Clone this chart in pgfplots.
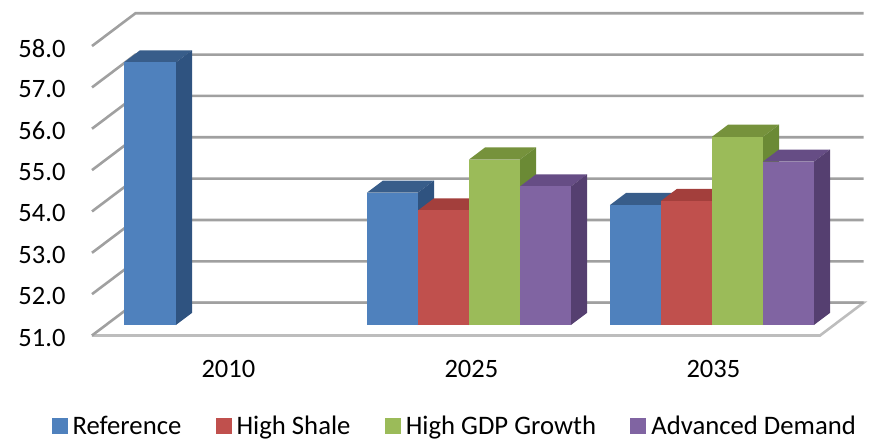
\documentclass[border=0pt]{standalone}
\usepackage{pgfplots}
\pgfplotsset{compat=1.18}
\usepackage{fontspec}
\setmainfont{Carlito}
\definecolor{blueF}{HTML}{4F81BD}\definecolor{blueT}{HTML}{385D8A}\definecolor{blueS}{HTML}{2F5380}
\definecolor{redF}{HTML}{C0504D}\definecolor{redT}{HTML}{A33F3C}\definecolor{redS}{HTML}{8C3836}
\definecolor{greenF}{HTML}{9BBB59}\definecolor{greenT}{HTML}{76923C}\definecolor{greenS}{HTML}{6B8A35}
\definecolor{purpleF}{HTML}{8064A2}\definecolor{purpleT}{HTML}{664D85}\definecolor{purpleS}{HTML}{553F70}
\definecolor{gridgray}{HTML}{A0A0A0}
% One oblique column: colour prefix, left edge, right edge, value
\newcommand\column[4]{%
  \addplot3[fill=#1T,draw=none,forget plot] coordinates {(#2,0.32,#4)(#3,0.32,#4)(#3,0.69,#4)(#2,0.69,#4)};
  \addplot3[fill=#1S,draw=none,forget plot] coordinates {(#3,0.32,51)(#3,0.69,51)(#3,0.69,#4)(#3,0.32,#4)};
  \addplot3[fill=#1F,draw=none,forget plot] coordinates {(#2,0.32,51)(#3,0.32,51)(#3,0.32,#4)(#2,0.32,#4)};
}
% One gridline running along the side wall and the back wall
\newcommand\gridline[1]{%
  \addplot3[gridgray,line width=2.6pt,forget plot] coordinates {(92,0,#1)(92,1,#1)(820,1,#1)};
}
\pgfplotsset{
  swatch/.style={legend image code/.code={\fill[draw=none,##1] (0pt,-8pt) rectangle (16pt,8pt);}},
}
\begin{document}
\begin{tikzpicture}
\begin{axis}[
  x={(1pt,0pt)}, y={(43.5pt,32.8pt)}, z={(0pt,41.35pt)},
  xmin=92, xmax=820, ymin=0, ymax=1, zmin=51, zmax=58,
  clip=false,
  axis line style={draw=none},
  major tick length=0pt,
  xtick={228,471,713}, xticklabels={2010,2025,2035},
  ytick=\empty,
  ztick={51,52,53,54,55,56,57,58},
  /pgf/number format/assume math mode=true,
  /pgf/number format/fixed, /pgf/number format/fixed zerofill, /pgf/number format/precision=1,
  tick label style={font=\fontsize{26.5}{26.5}\selectfont,black},
  x tick label style={xshift=6.5pt,yshift=-21pt},
  z tick label style={xshift=-23pt,yshift=7pt},
  legend columns=4,
  legend cell align=left,
  legend style={draw=none,fill=none,font=\fontsize{26.7}{26.7}\selectfont,
    at={(axis description cs:0.5,-0.2)},anchor=center,inner sep=0pt,
    xshift=-23pt,yshift=-26pt,
    /tikz/every odd column/.append style={column sep=3pt},
    /tikz/every even column/.append style={column sep=32.3pt}},
]
\coordinate (o) at (axis cs:92,0,51);
% walls
\gridline{52}\gridline{53}\gridline{54}\gridline{55}\gridline{56}\gridline{57}\gridline{58}
% floor
\addplot3[color=gridgray!70,line width=2.6pt,forget plot] coordinates {(92,1,51)(820,1,51)(820,0,51)(92,0,51)};
\addplot3[gridgray,line width=2.6pt,forget plot] coordinates {(92,0,51)(92,1,51)(820,1,51)};
% 2010
\column{blue}{110}{162}{57.35}
% 2025
\column{blue}{353}{404}{54.2}
\column{red}{404}{455}{53.77}
\column{green}{455}{506}{55.0}
\column{purple}{506}{557}{54.35}
% 2035
\column{blue}{596}{647}{53.9}
\column{red}{647}{698}{54.0}
\column{green}{698}{749}{55.55}
\column{purple}{749}{800}{54.95}
\addlegendimage{swatch,fill=blueF}\addlegendentry{Reference}
\addlegendimage{swatch,fill=redF}\addlegendentry{High Shale}
\addlegendimage{swatch,fill=greenF}\addlegendentry{High GDP Growth}
\addlegendimage{swatch,fill=purpleF}\addlegendentry{Advanced Demand}
\end{axis}
\pgfresetboundingbox
\path (o) ++(-92pt,-105.5pt) rectangle ++(870pt,441pt);
\end{tikzpicture}
\end{document}
